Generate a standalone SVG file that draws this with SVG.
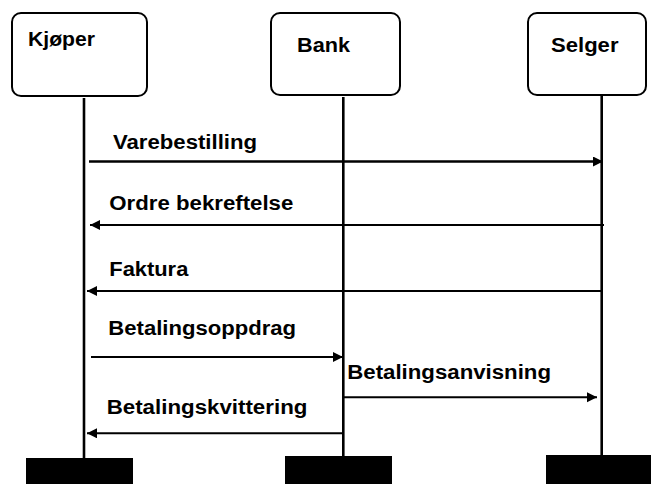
<svg xmlns="http://www.w3.org/2000/svg" width="651" height="484" viewBox="0 0 651 484">
  <style>
    .box { fill: #fff; stroke: #000; stroke-width: 2; }
    .life { stroke: #000; stroke-width: 2.6; fill: none; }
    .msg { stroke: #000; stroke-width: 2; fill: none; }
    .foot { fill: #000; }
    text { font-family: "Liberation Sans", Arial, sans-serif; font-weight: bold; font-size: 20px; fill: #000; }
  </style>
  <defs>
    <marker id="ah" markerUnits="userSpaceOnUse" markerWidth="11" markerHeight="11" refX="10" refY="5" orient="auto">
      <path d="M0,0 L10,5 L0,10 Z" fill="#000"/>
    </marker>
  </defs>

  <g id="kjoper">
    <rect class="box" x="12" y="13" width="135" height="83" rx="9"/>
    <text x="28" y="46" textLength="67" lengthAdjust="spacingAndGlyphs">Kjøper</text>
    <line class="life" x1="84" y1="98" x2="84" y2="459"/>
    <rect class="foot" x="26" y="458" width="107" height="26"/>
  </g>

  <g id="bank">
    <rect class="box" x="271" y="13" width="129" height="82" rx="9"/>
    <text x="297" y="52" textLength="53" lengthAdjust="spacingAndGlyphs">Bank</text>
    <line class="life" x1="343.3" y1="97" x2="343.3" y2="457"/>
    <rect class="foot" x="285" y="456" width="107" height="28"/>
  </g>

  <g id="selger">
    <rect class="box" x="528" y="13" width="118" height="82" rx="9"/>
    <text x="551" y="52" textLength="67.5" lengthAdjust="spacingAndGlyphs">Selger</text>
    <line class="life" x1="601.7" y1="96" x2="601.7" y2="456"/>
    <rect class="foot" x="546" y="455" width="105" height="29"/>
  </g>

  <g id="connectors">
    <line class="msg" x1="89" y1="161.5" x2="603" y2="161.5" style="stroke-width:2.7" marker-end="url(#ah)"/>
    <line class="msg" x1="604" y1="225" x2="90" y2="225" marker-end="url(#ah)"/>
    <line class="msg" x1="602" y1="291" x2="87" y2="291" marker-end="url(#ah)"/>
    <line class="msg" x1="91" y1="357" x2="343" y2="357" marker-end="url(#ah)"/>
    <line class="msg" x1="343" y1="397.3" x2="597" y2="397.3" marker-end="url(#ah)"/>
    <line class="msg" x1="343" y1="433.3" x2="87" y2="433.3" marker-end="url(#ah)"/>
  </g>

  <g id="labels">
    <text x="113" y="149" textLength="144" lengthAdjust="spacingAndGlyphs">Varebestilling</text>
    <text x="109.3" y="210" textLength="184" lengthAdjust="spacingAndGlyphs">Ordre bekreftelse</text>
    <text x="109.3" y="276.3" textLength="79" lengthAdjust="spacingAndGlyphs">Faktura</text>
    <text x="108.3" y="335" textLength="187.7" lengthAdjust="spacingAndGlyphs">Betalingsoppdrag</text>
    <text x="347.3" y="379" textLength="203.7" lengthAdjust="spacingAndGlyphs">Betalingsanvisning</text>
    <text x="106.7" y="414.3" textLength="200.7" lengthAdjust="spacingAndGlyphs">Betalingskvittering</text>
  </g>
</svg>
